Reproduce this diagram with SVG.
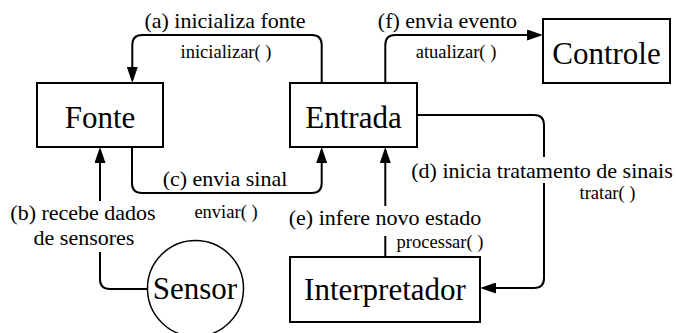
<svg xmlns="http://www.w3.org/2000/svg" width="676" height="333" viewBox="0 0 676 333">
  <style>
    .box { fill: #ffffff; stroke: #000000; stroke-width: 2; }
    .circ { fill: #ffffff; stroke: #000000; stroke-width: 1.5; }
    .node-label { font-family: "Liberation Serif", "Times New Roman", serif; font-size: 31px; fill: #000000; text-anchor: middle; }
    .edge-label { font-family: "Liberation Serif", "Times New Roman", serif; font-size: 22px; fill: #000000; text-anchor: middle; }
    .call-label { font-family: "Liberation Serif", "Times New Roman", serif; font-size: 18.5px; fill: #000000; text-anchor: middle; }
    .conn { fill: none; stroke: #000000; stroke-width: 2; marker-end: url(#arrow); }
  </style>
  <defs>
    <marker id="arrow" viewBox="0 0 16 11" refX="13" refY="5.5" markerWidth="16" markerHeight="11" markerUnits="userSpaceOnUse" orient="auto">
      <path d="M0,0 L16,5.5 L0,11 Z" fill="#000000"/>
    </marker>
  </defs>

  <rect width="676" height="333" fill="#ffffff"/>

  <!-- connectors -->
  <g id="connectors">
    <!-- (a) Entrada -> Fonte -->
    <path id="edge-a" class="conn" d="M321.7,83 V45 Q321.7,35 311.7,35 H142.3 Q132.3,35 132.3,45 V80"/>
    <!-- (f) Entrada -> Controle -->
    <path id="edge-f" class="conn" d="M385.3,83 V45 Q385.3,35 395.3,35 H540"/>
    <!-- (c) Fonte -> Entrada -->
    <path id="edge-c" class="conn" d="M132,147 V183 Q132,193 142,193 H311.7 Q321.7,193 321.7,183 V150"/>
    <!-- (b) Sensor -> Fonte -->
    <path id="edge-b" class="conn" d="M148,289 H110 Q100,289 100,279 V252 M100,201 V150"/>
    <!-- (d) Entrada -> Interpretador -->
    <path id="edge-d" class="conn" d="M417,115 H534 Q544,115 544,125 V157 M544,183 V278 Q544,288 534,288 H483"/>
    <!-- (e) Interpretador -> Entrada -->
    <path id="edge-e" class="conn" d="M385.3,257 V236 M385.3,206 V150"/>
  </g>

  <!-- connector labels -->
  <g id="edge-labels">
    <text class="edge-label" x="225" y="28">(a) inicializa fonte</text>
    <text class="call-label" x="226" y="58">inicializar( )</text>
    <text class="edge-label" x="447.5" y="28">(f) envia evento</text>
    <text class="call-label" x="456" y="58">atualizar( )</text>
    <text class="edge-label" x="225" y="186">(c) envia sinal</text>
    <text class="call-label" x="226" y="217.5">enviar( )</text>
    <text class="edge-label" x="83" y="220">(b) recebe dados</text>
    <text class="edge-label" x="84" y="245">de sensores</text>
    <text class="edge-label" x="542" y="178.3">(d) inicia tratamento de sinais</text>
    <text class="call-label" x="607.5" y="199">tratar( )</text>
    <text class="edge-label" x="385" y="225">(e) infere novo estado</text>
    <text class="call-label" x="440" y="247.5">processar( )</text>
  </g>

  <!-- nodes -->
  <g id="node-fonte">
    <rect class="box" x="37" y="83" width="126" height="64"/>
    <text class="node-label" x="100" y="128">Fonte</text>
  </g>
  <g id="node-entrada">
    <rect class="box" x="290" y="83" width="127" height="64"/>
    <text class="node-label" x="353.5" y="128">Entrada</text>
  </g>
  <g id="node-controle">
    <rect class="box" x="543" y="19" width="127" height="64"/>
    <text class="node-label" x="606.5" y="64">Controle</text>
  </g>
  <g id="node-interpretador">
    <rect class="box" x="290" y="257" width="190" height="65"/>
    <text class="node-label" x="385" y="300">Interpretador</text>
  </g>
  <g id="node-sensor">
    <circle class="circ" cx="195.5" cy="288.5" r="48"/>
    <text class="node-label" x="195" y="299">Sensor</text>
  </g>
</svg>
